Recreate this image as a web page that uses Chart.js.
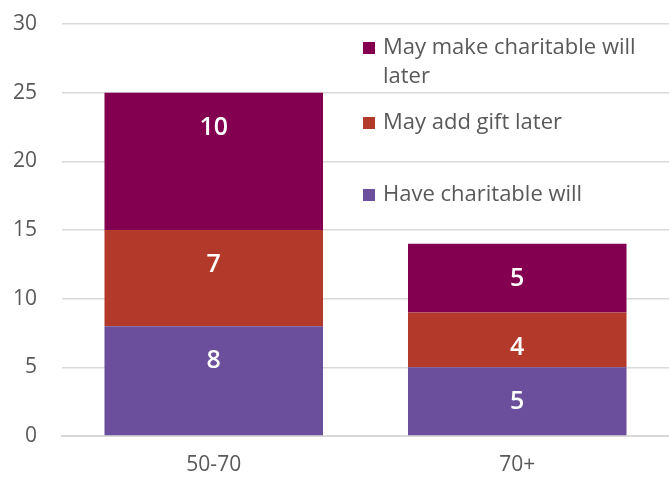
<!DOCTYPE html>
<html><head><meta charset="utf-8">
<script src="https://cdn.jsdelivr.net/npm/chart.js@4/dist/chart.umd.min.js"></script>
<style>html,body{margin:0;padding:0;background:#fff}#wrap{width:669px;height:479px;position:relative}</style>
</head><body><div id="wrap"><canvas id="c" width="669" height="479"></canvas></div>
<script>
const categories = ["50-70", "70+"];
const haveWill = [8, 5];
const addGift = [7, 4];
const makeWillLater = [10, 5];
const yTicks = [0, 5, 10, 15, 20, 25, 30];
const seriesNames = ["Have charitable will", "May add gift later", "May make charitable will later"];
const FONT = "'Open Sans', sans-serif";

const labelPlugin = {
  id: 'vlabels',
  afterDatasetsDraw(chart) {
    const ctx = chart.ctx;
    ctx.save();
    ctx.fillStyle = '#ffffff';
    ctx.font = "600 25px " + FONT;
    ctx.textAlign = 'center';
    ctx.textBaseline = 'middle';
    chart.data.datasets.forEach((ds, i) => {
      const meta = chart.getDatasetMeta(i);
      meta.data.forEach((el, j) => {
        ctx.fillText(String(ds.data[j]), el.x, el.y + 35);
      });
    });
    ctx.restore();
  }
};

const legendPlugin = {
  id: 'inlegend',
  afterDraw(chart) {
    const ctx = chart.ctx;
    ctx.save();
    ctx.font = "22px " + FONT;
    ctx.textBaseline = 'middle';
    ctx.textAlign = 'left';
    const items = [
      {ds: 2, lines: ["May make charitable will", "later"], y: 48},
      {ds: 1, lines: ["May add gift later"], y: 123},
      {ds: 0, lines: ["Have charitable will"], y: 195}
    ];
    items.forEach(it => {
      const ds = chart.data.datasets[it.ds];
      ctx.fillStyle = ds.backgroundColor;
      ctx.fillRect(363, it.y - 6, 12, 12);
      ctx.fillStyle = '#595959';
      it.lines.forEach((t, k) => ctx.fillText(t, 383, it.y + k * 29));
    });
    ctx.restore();
  }
};

new Chart(document.getElementById('c'), {
  type: 'bar',
  data: {
    labels: categories,
    datasets: [
      {label: seriesNames[0], data: haveWill, backgroundColor: '#6b4e9c'},
      {label: seriesNames[1], data: addGift, backgroundColor: '#b3392a'},
      {label: seriesNames[2], data: makeWillLater, backgroundColor: '#830051'}
    ]
  },
  options: {
    responsive: false,
    animation: false,
    layout: {padding: 0},
    plugins: {legend: {display: false}, tooltip: {enabled: false}},
    datasets: {bar: {categoryPercentage: 0.72, barPercentage: 1, borderWidth: 0}},
    scales: {
      x: {
        stacked: true,
        afterFit(axis) { axis.height = 43; axis.paddingLeft = 0; axis.paddingRight = 0; },
        grid: {display: false, drawTicks: false},
        border: {display: true, color: '#d9d9d9', width: 2},
        ticks: {color: '#595959', font: {family: FONT, size: 21}, padding: 16}
      },
      y: {
        stacked: true,
        min: 0, max: 30,
        afterFit(axis) { axis.width = 62; axis.paddingTop = 24; axis.paddingBottom = 0; },
        afterBuildTicks(axis) { axis.ticks = yTicks.map(v => ({value: v})); },
        grid: {color: '#d9d9d9', lineWidth: 1.5, drawTicks: false},
        border: {display: false},
        ticks: {color: '#595959', font: {family: FONT, size: 21}, padding: 25}
      }
    }
  },
  plugins: [labelPlugin, legendPlugin]
});
</script></body></html>
